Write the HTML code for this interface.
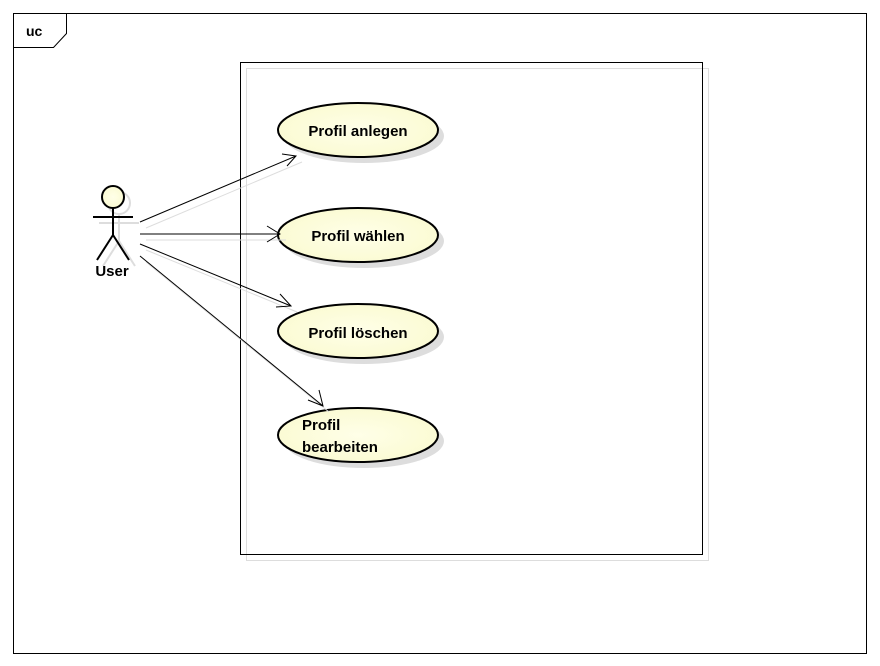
<!DOCTYPE html>
<html><head><style>body{margin:0;background:#fff}svg{display:block}</style></head><body>
<svg width="880" height="666" xmlns="http://www.w3.org/2000/svg" font-family="Liberation Sans, sans-serif">
<defs><radialGradient id="g" cx="0.5" cy="0.5" r="0.6"><stop offset="0" stop-color="#ffffe8"/><stop offset="1" stop-color="#fafad0"/></radialGradient></defs>
<rect x="13.5" y="13.5" width="853" height="640" fill="none" stroke="#000"/>
<path d="M13.5 47.5H53.5L66.5 33.5V13.5" fill="none" stroke="#000"/>
<text x="26" y="36" font-size="14" font-weight="bold">uc</text>
<rect x="246.5" y="68.5" width="462" height="492" fill="none" stroke="#ddd"/>
<rect x="240.5" y="62.5" width="462" height="492" fill="none" stroke="#000"/>
<g fill="#ddd">
<ellipse cx="364" cy="136" rx="80" ry="27"/><ellipse cx="364" cy="241" rx="80" ry="27"/><ellipse cx="364" cy="337" rx="80" ry="27"/><ellipse cx="364" cy="441" rx="80" ry="27"/></g>
<g fill="url(#g)" stroke="#000" stroke-width="2">
<ellipse cx="358" cy="130" rx="80" ry="27"/><ellipse cx="358" cy="235" rx="80" ry="27"/><ellipse cx="358" cy="331" rx="80" ry="27"/><ellipse cx="358" cy="435" rx="80" ry="27"/></g>
<g font-size="15" font-weight="bold">
<text x="358" y="136" text-anchor="middle">Profil anlegen</text>
<text x="358" y="241" text-anchor="middle">Profil wählen</text>
<text x="358" y="338" text-anchor="middle">Profil löschen</text>
<text x="302" y="430">Profil</text><text x="302" y="452">bearbeiten</text></g>
<g stroke="#ddd" fill="none">
<path d="M146 228L302 162M146 240L286 240M146 250L297 312M146 262L329 412"/></g>
<g stroke="#000" fill="none">
<path d="M140 222L296 156M282 154L296 156L287 166M140 234L280 234M267 226L280 234L267 242M140 244L291 306M280 294L291 306L276 307M140 256L323 406M319 390L323 406L308 400"/></g>
<g stroke="#ddd" stroke-width="2" fill="none"><circle cx="119" cy="203" r="11"/><path d="M99 223H139M119 214V241L103 266M119 241L135 266"/></g>
<g stroke="#000" stroke-width="2"><circle cx="113" cy="197" r="11" fill="url(#g)"/><path d="M93 217H133M113 208V235L97 260M113 235L129 260" fill="none"/></g>
<text x="112" y="276" font-size="15" font-weight="bold" text-anchor="middle">User</text>
</svg></body></html>
